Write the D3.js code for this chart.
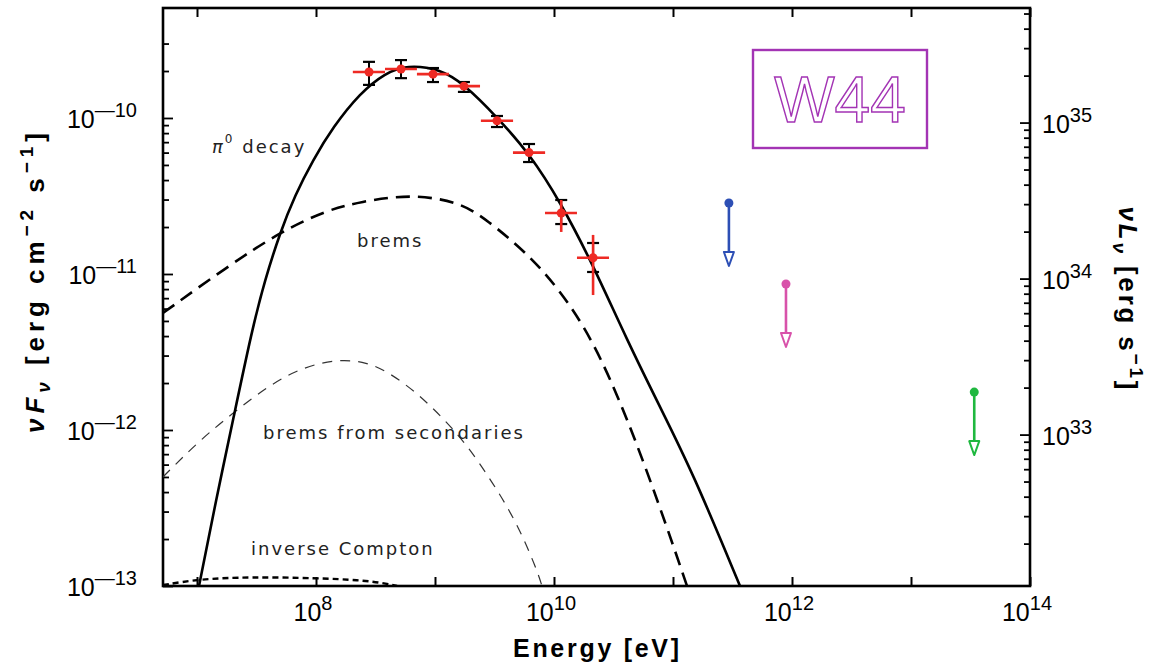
<!DOCTYPE html>
<html><head><meta charset="utf-8">
<script src="https://cdn.jsdelivr.net/npm/d3@7"></script>
<style>body{margin:0;background:#fff;} svg{display:block;}</style>
</head><body>
<svg id="chart" width="1151" height="665"></svg>
<script>
// ---------- model curves (log10 E [eV], log10 nuF_nu [erg cm^-2 s^-1]) ----------
const pi0LogE = [7.017, 7.160, 7.303, 7.462, 7.571, 7.697, 7.824, 7.975, 8.143, 8.370, 8.580, 8.765, 9.042, 9.244, 9.521, 9.790, 10.059, 10.328, 10.613, 10.891, 11.168, 11.563];
const pi0LogF = [-13.000, -12.449, -11.936, -11.359, -11.038, -10.737, -10.494, -10.269, -10.058, -9.840, -9.712, -9.660, -9.686, -9.782, -9.994, -10.224, -10.545, -10.942, -11.423, -11.853, -12.276, -13.000];

const bremsLogE = [6.714, 7.252, 7.697, 8.092, 8.370, 8.790, 9.210, 9.437, 9.773, 10.050, 10.328, 10.613, 10.891, 11.118];
const bremsLogF = [-11.250, -10.955, -10.731, -10.590, -10.538, -10.487, -10.538, -10.654, -10.865, -11.103, -11.423, -11.917, -12.494, -13.000];

const secLogE = [6.714, 7.025, 7.303, 7.588, 7.866, 8.176, 8.429, 8.622, 8.849, 9.067, 9.269, 9.487, 9.689, 9.857, 9.899];
const secLogF = [-12.301, -12.064, -11.891, -11.724, -11.603, -11.545, -11.564, -11.635, -11.763, -11.923, -12.096, -12.340, -12.596, -12.897, -13.000];

const icLogE = [6.714, 7.025, 7.445, 8.008, 8.370, 8.563, 8.681];
const icLogF = [-12.994, -12.955, -12.942, -12.949, -12.962, -12.981, -13.000];

// ---------- Fermi data points ----------
const pointE    = [2.79e8, 5.18e8, 9.62e8, 1.75e9, 3.32e9, 6.17e9, 1.15e10, 2.13e10];
const pointELo  = [2.04e8, 3.80e8, 7.05e8, 1.28e9, 2.43e9, 4.52e9, 8.40e9, 1.56e10];
const pointEHi  = [3.80e8, 7.05e8, 1.31e9, 2.39e9, 4.53e9, 8.42e9, 1.56e10, 2.90e10];
const pointF    = [1.97e-10, 2.06e-10, 1.91e-10, 1.60e-10, 9.6e-11, 6.0e-11, 2.46e-11, 1.27e-11];
const statLo    = [1.63e-10, 1.80e-10, 1.70e-10, 1.47e-10, 8.75e-11, 5.22e-11, 2.09e-11, 1.03e-11];
const statHi    = [2.29e-10, 2.35e-10, 2.09e-10, 1.70e-10, 1.03e-10, 6.81e-11, 2.98e-11, 1.58e-11];
const sysLo     = [1.97e-10, 2.06e-10, 1.91e-10, 1.60e-10, 9.6e-11, 6.0e-11, 1.86e-11, 7.33e-12];
const sysHi     = [1.97e-10, 2.06e-10, 1.91e-10, 1.60e-10, 9.6e-11, 6.0e-11, 2.98e-11, 1.78e-11];

// ---------- TeV upper limits ----------
const ulE      = [2.95e11, 8.9e11, 3.4e13];
const ulF      = [2.85e-11, 8.63e-12, 1.75e-12];
const ulColors = ["#2d4fb5", "#d852aa", "#1fb83f"];

// ---------- axes ----------
const xTickExp      = [7, 8, 9, 10, 11, 12, 13, 14];
const xLabelExp     = [8, 10, 12, 14];
const yLabelExp     = [-10, -11, -12, -13];
const lumLabelExp   = [35, 34, 33];
const lumFactor     = 1.07e45;   // nuL_nu / nuF_nu

const svg = d3.select("#chart");
const L = 163, R = 1030, T = 8, B = 586;
const x = d3.scaleLog().domain([5.18e6, 1e14]).range([L, R]);
const y = d3.scaleLog().domain([1e-13, 5.07e-10]).range([B, T]);
const yL = d3.scaleLog().domain([1e-13 * lumFactor, 5.07e-10 * lumFactor]).range([B, T]);

svg.append("clipPath").attr("id", "clip").append("rect")
  .attr("x", L).attr("y", T).attr("width", R - L).attr("height", B - T);

// ticks via d3 axes
const xTicks = xTickExp.map(e => Math.pow(10, e));
svg.append("g").attr("transform", `translate(0,${B})`)
  .call(d3.axisBottom(x).tickValues(xTicks).tickSize(-9).tickFormat(""))
  .call(g => g.select(".domain").remove())
  .selectAll("line").attr("stroke", "#000").attr("stroke-width", 2);
svg.append("g").attr("transform", `translate(0,${T})`)
  .call(d3.axisTop(x).tickValues(xTicks).tickSize(-9).tickFormat(""))
  .call(g => g.select(".domain").remove())
  .selectAll("line").attr("stroke", "#000").attr("stroke-width", 2);

function logTicks(lo, hi) {
  const out = [];
  for (let e = Math.floor(Math.log10(lo)); e <= Math.ceil(Math.log10(hi)); e++)
    for (let m = 1; m <= 9; m++) {
      const v = m * Math.pow(10, e);
      if (v >= lo * 0.999 && v <= hi) out.push(v);
    }
  return out;
}
const isMajor = v => Math.abs(Math.log10(v) - Math.round(Math.log10(v))) < 1e-6;

const yTicks = logTicks(1e-13, 3.5e-10);
svg.append("g").attr("transform", `translate(${L},0)`)
  .call(d3.axisLeft(y).tickValues(yTicks).tickSize(0).tickFormat(""))
  .call(g => g.select(".domain").remove())
  .selectAll(".tick line").attr("x2", d => isMajor(d) ? 10 : 6)
  .attr("stroke", "#000").attr("stroke-width", 1.8);

const lTicks = logTicks(1e-13 * lumFactor, 5.07e-10 * lumFactor);
svg.append("g").attr("transform", `translate(${R},0)`)
  .call(d3.axisRight(yL).tickValues(lTicks).tickSize(0).tickFormat(""))
  .call(g => g.select(".domain").remove())
  .selectAll(".tick line").attr("x2", d => isMajor(d) ? -10 : -6)
  .attr("stroke", "#000").attr("stroke-width", 1.8);

// frame
svg.append("rect").attr("x", L).attr("y", T).attr("width", R - L).attr("height", B - T)
  .attr("fill", "none").attr("stroke", "#000").attr("stroke-width", 2.6);

// tick labels
const numFont = "'Liberation Sans', Arial, sans-serif";
function powLabel(g, px, py, anchor, exp) {
  const t = g.append("text").attr("x", px).attr("y", py).attr("text-anchor", anchor)
    .attr("font-family", numFont).attr("font-size", 25).attr("fill", "#000");
  t.append("tspan").text("10");
  t.append("tspan").attr("dy", -11).attr("font-size", 20)
    .text(exp < 0 ? "\u2014" + Math.abs(exp) : String(exp));
}
const labels = svg.append("g");
xLabelExp.forEach(e => powLabel(labels, x(Math.pow(10, e)) - 3, 621, "middle", e));
yLabelExp.forEach(e => powLabel(labels, 137, y(Math.pow(10, e)) + 10, "end", e));
lumLabelExp.forEach(e => powLabel(labels, 1042, yL(Math.pow(10, e)) + 10, "start", e));

// axis titles
svg.append("text").attr("x", 596).attr("y", 657).attr("text-anchor", "middle")
  .attr("font-family", numFont).attr("font-weight", "bold").attr("font-size", 25)
  .attr("textLength", 166).attr("lengthAdjust", "spacing")
  .text("Energy [eV]");

const yt = svg.append("text").attr("transform", "translate(44,283) rotate(-90)")
  .attr("text-anchor", "middle").attr("font-family", numFont)
  .attr("font-weight", "bold").attr("font-size", 26)
  .attr("textLength", 300).attr("lengthAdjust", "spacing");
yt.append("tspan").attr("font-style", "italic").text("\u03BDF");
yt.append("tspan").attr("font-style", "italic").attr("font-size", 19).attr("dy", 6).text("\u03BD");
yt.append("tspan").attr("dy", -6).text(" [erg cm");
yt.append("tspan").attr("font-size", 19).attr("dy", -11).text("\u22122");
yt.append("tspan").attr("dy", 11).text(" s");
yt.append("tspan").attr("font-size", 19).attr("dy", -11).text("\u22121");
yt.append("tspan").attr("dy", 11).text("]");

const rt = svg.append("text").attr("transform", "translate(1119,298) rotate(90)")
  .attr("text-anchor", "middle").attr("font-family", numFont)
  .attr("font-weight", "bold").attr("font-size", 26)
  .attr("textLength", 183).attr("lengthAdjust", "spacing");
rt.append("tspan").attr("font-style", "italic").text("\u03BDL");
rt.append("tspan").attr("font-style", "italic").attr("font-size", 19).attr("dy", 6).text("\u03BD");
rt.append("tspan").attr("dy", -6).text(" [erg s");
rt.append("tspan").attr("font-size", 19).attr("dy", -11).text("\u22121");
rt.append("tspan").attr("dy", 11).text("]");

// curves
const plot = svg.append("g").attr("clip-path", "url(#clip)");
const line = d3.line().x(d => x(Math.pow(10, d[0]))).y(d => y(Math.pow(10, d[1])))
  .curve(d3.curveBasis);
const zip = (a, b) => a.map((v, i) => [v, b[i]]);

plot.append("path").datum(zip(secLogE, secLogF)).attr("d", line)
  .attr("fill", "none").attr("stroke", "#333").attr("stroke-width", 1.2).attr("stroke-dasharray", "10,8");
plot.append("path").datum(zip(icLogE, icLogF)).attr("d", line)
  .attr("fill", "none").attr("stroke", "#000").attr("stroke-width", 2.4).attr("stroke-dasharray", "6,4");
plot.append("path").datum(zip(bremsLogE, bremsLogF)).attr("d", line)
  .attr("fill", "none").attr("stroke", "#000").attr("stroke-width", 2.6).attr("stroke-dasharray", "14,8");
plot.append("path").datum(zip(pi0LogE, pi0LogF)).attr("d", line)
  .attr("fill", "none").attr("stroke", "#000").attr("stroke-width", 2.6);

// curve labels
const lblFont = "'DejaVu Sans', sans-serif";
function curveLabel(px, py, txt) {
  return svg.append("text").attr("x", px).attr("y", py).attr("font-family", lblFont)
    .attr("font-size", 18).attr("letter-spacing", 2).attr("fill", "#222").text(txt);
}
const pl = svg.append("text").attr("x", 212).attr("y", 153).attr("font-family", lblFont)
  .attr("font-size", 18).attr("letter-spacing", 2).attr("fill", "#222");
pl.append("tspan").attr("font-style", "italic").text("\u03C0");
pl.append("tspan").attr("font-size", 12).attr("dy", -10).text("0");
pl.append("tspan").attr("dy", 10).text(" decay");
curveLabel(357, 247, "brems");
curveLabel(263, 439, "brems from secondaries");
curveLabel(251, 555, "inverse Compton");

// data points
const pts = pointE.map((e, i) => ({e, lo: pointELo[i], hi: pointEHi[i], f: pointF[i],
  sLo: statLo[i], sHi: statHi[i], yLo: sysLo[i], yHi: sysHi[i]}));
const dp = svg.append("g");
const red = "#ee2a24";
dp.selectAll(".hb").data(pts).join("line")
  .attr("x1", d => x(d.lo)).attr("x2", d => x(d.hi)).attr("y1", d => y(d.f)).attr("y2", d => y(d.f))
  .attr("stroke", red).attr("stroke-width", 2.6);
dp.selectAll(".bv").data(pts).join("line")
  .attr("x1", d => x(d.e)).attr("x2", d => x(d.e)).attr("y1", d => y(d.sLo)).attr("y2", d => y(d.sHi))
  .attr("stroke", "#000").attr("stroke-width", 2);
["sLo", "sHi"].forEach(k => {
  dp.selectAll(".cap" + k).data(pts).join("line")
    .attr("x1", d => x(d.e) - 6).attr("x2", d => x(d.e) + 6).attr("y1", d => y(d[k])).attr("y2", d => y(d[k]))
    .attr("stroke", "#000").attr("stroke-width", 2.2);
});
dp.selectAll(".rv").data(pts.filter(d => d.yHi > d.yLo)).join("line")
  .attr("x1", d => x(d.e)).attr("x2", d => x(d.e)).attr("y1", d => y(d.yLo)).attr("y2", d => y(d.yHi))
  .attr("stroke", red).attr("stroke-width", 2.6);
dp.selectAll("circle").data(pts).join("circle")
  .attr("cx", d => x(d.e)).attr("cy", d => y(d.f)).attr("r", 4.5).attr("fill", red);

// upper limits
const arrowLen = 63;
const ul = svg.append("g");
ulE.forEach((e, i) => {
  const cx = x(e), cy = y(ulF[i]), c = ulColors[i], tip = cy + arrowLen;
  ul.append("line").attr("x1", cx).attr("x2", cx).attr("y1", cy).attr("y2", tip - 14)
    .attr("stroke", c).attr("stroke-width", 2.6);
  ul.append("path").attr("d", `M${cx - 5},${tip - 14}L${cx + 5},${tip - 14}L${cx},${tip}Z`)
    .attr("fill", "#fff").attr("stroke", c).attr("stroke-width", 2).attr("stroke-linejoin", "round");
  ul.append("circle").attr("cx", cx).attr("cy", cy).attr("r", 4.5).attr("fill", c);
});

// W44 box
svg.append("rect").attr("x", 753).attr("y", 50).attr("width", 174).attr("height", 98)
  .attr("fill", "none").attr("stroke", "#a334b4").attr("stroke-width", 2.4);
svg.append("text").attr("x", 840).attr("y", 122).attr("text-anchor", "middle")
  .attr("font-family", numFont).attr("font-size", 64)
  .attr("fill", "#fff").attr("stroke", "#a334b4").attr("stroke-width", 1.4)
  .text("W44");
</script>
</body></html>
